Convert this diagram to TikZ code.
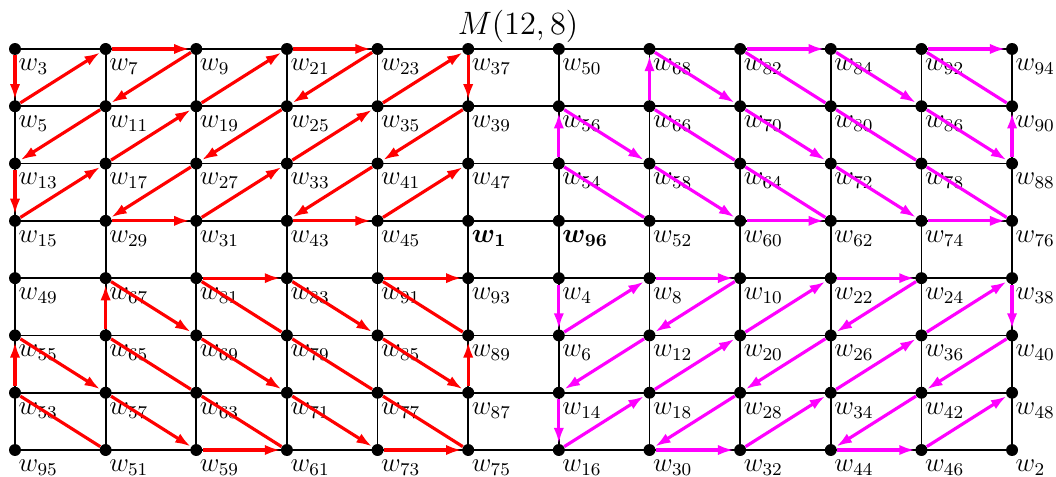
\documentclass[tikz,border=0pt]{standalone}
\usepackage{amsmath}
\usepackage{amssymb}
\usepackage{tikz}
\usetikzlibrary{arrows.meta}

\definecolor{oddred}{RGB}{255,0,0}
\definecolor{evenmag}{RGB}{255,0,255}

\newcommand{\wlab}[1]{\ifnum#1=1 {\boldmath$w_{#1}$}\else\ifnum#1=96 {\boldmath$w_{#1}$}\else$w_{#1}$\fi\fi}

\begin{document}
\begin{tikzpicture}[x=1.416cm, y=-0.895cm,
    vtx/.style={circle, fill=black, inner sep=0pt, minimum size=5.3pt},
    lbl/.style={anchor=north west, inner sep=0pt, xshift=-0.6pt, yshift=-2.1pt, font=\large},
    gridline/.style={line width=0.8pt},
    oddpath/.style={oddred, line width=1.4pt},
    evenpath/.style={evenmag, line width=1.4pt},
    arrowed/.style={-{Latex[length=7pt,width=4.6pt]}}]
    \useasboundingbox (-0.1655,-0.855) rectangle (11.485,7.471);

    \foreach \i in {0,...,11}
        \draw[gridline] (\i,0) -- (\i,7);
    \foreach \j in {0,...,7}
        \draw[gridline] (0,\j) -- (11,\j);

    \foreach \row [count=\j from 0] in {{3,7,9,21,23,37,50,68,82,84,92,94},
        {5,11,19,25,35,39,56,66,70,80,86,90},
        {13,17,27,33,41,47,54,58,64,72,78,88},
        {15,29,31,43,45,1,96,52,60,62,74,76},
        {49,67,81,83,91,93,4,8,10,22,24,38},
        {55,65,69,79,85,89,6,12,20,26,36,40},
        {53,57,63,71,77,87,14,18,28,34,42,48},
        {95,51,59,61,73,75,16,30,32,44,46,2}}
        \foreach \n [count=\i from 0] in \row
            \node[vtx, label={[lbl]south east:\wlab{\n}}] (v\n) at (\i,\j) {};

    \foreach \n [evaluate=\n as \m using int(\n+2)] in {3,5,...,45,53,55,57,59,65,67,69,71,73,81,83,85,87,91}
        \draw[oddpath, arrowed] (v\n) -- (v\m);
    \foreach \n [evaluate=\n as \m using int(\n+2)] in {51,61,63,75,77,79,89}
        \draw[oddpath] (v\n) -- (v\m);

    \foreach \n [evaluate=\n as \m using int(\n+2)] in {4,6,...,46,54,56,58,60,66,68,70,72,74,82,84,86,88,92}
        \draw[evenpath, arrowed] (v\n) -- (v\m);
    \foreach \n [evaluate=\n as \m using int(\n+2)] in {52,62,64,76,78,80,90}
        \draw[evenpath] (v\n) -- (v\m);

    \node[anchor=base] (title) at (5.55,-0.244) {\fontsize{15}{18}\selectfont $M(12,8)$};
\end{tikzpicture}
\end{document}
